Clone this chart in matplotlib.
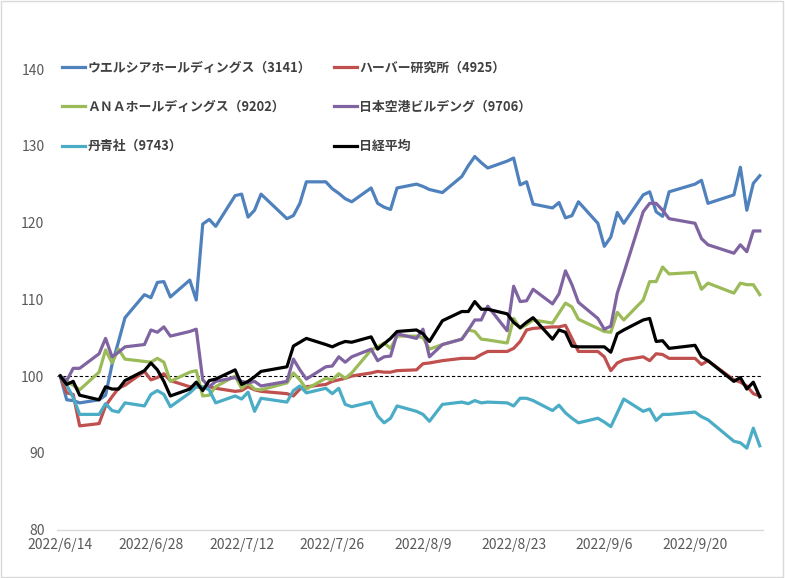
import matplotlib
matplotlib.use("Agg")
import matplotlib.pyplot as plt
from matplotlib.patches import Rectangle
import pandas as pd

plt.rcParams['font.family'] = ['Noto Sans CJK JP', 'DejaVu Sans']

# trading days 2022/6/14 - 2022/9/30
dates = [
    "6/14", "6/15", "6/16", "6/17", "6/20", "6/21", "6/22", "6/23", "6/24",
    "6/27", "6/28", "6/29", "6/30", "7/1", "7/4", "7/5", "7/6", "7/7", "7/8",
    "7/11", "7/12", "7/13", "7/14", "7/15", "7/19", "7/20", "7/21", "7/22",
    "7/25", "7/26", "7/27", "7/28", "7/29", "8/1", "8/2", "8/3", "8/4", "8/5",
    "8/8", "8/9", "8/10", "8/12", "8/15", "8/16", "8/17", "8/18", "8/19",
    "8/22", "8/23", "8/24", "8/25", "8/26", "8/29", "8/30", "8/31", "9/1", "9/2",
    "9/5", "9/6", "9/7", "9/8", "9/9", "9/12", "9/13", "9/14", "9/15", "9/16",
    "9/20", "9/21", "9/22", "9/26", "9/27", "9/28", "9/29", "9/30",
]

welcia = [
    100, 96.9, 96.8, 96.5, 96.9, 97.5, 101.5, 104.5, 107.6,
    110.6, 110.2, 112.2, 112.3, 110.3, 112.5, 109.9, 119.8, 120.4, 119.5,
    123.5, 123.7, 120.7, 121.6, 123.7, 120.5, 120.9, 122.5, 125.3,
    125.3, 124.4, 123.8, 123.1, 122.7, 124.5, 122.5, 122.0, 121.7, 124.5,
    125.0, 124.7, 124.3, 123.9, 126.0, 127.4, 128.6, 127.8, 127.1,
    128.0, 128.4, 124.9, 125.3, 122.4, 121.9, 122.6, 120.6, 120.9, 122.7,
    119.9, 116.9, 118.1, 121.3, 119.9, 123.6, 124.0, 121.4, 120.8, 124.0,
    125.0, 125.5, 122.5, 123.6, 127.2, 121.6, 125.1, 126.1,
]
harbor = [
    100, 97.8, 97.6, 93.5, 93.8, 96.1, 97.3, 98.4, 98.8,
    100.6, 99.5, 99.8, 100.3, 99.4, 98.6, 98.6, 98.5, 98.6, 98.4,
    98.0, 98.1, 98.6, 98.2, 98.0, 97.7, 97.4, 98.3, 98.6,
    98.9, 99.3, 99.5, 99.7, 100.0, 100.4, 100.6, 100.5, 100.5, 100.7,
    100.8, 101.6, 101.7, 102.0, 102.3, 102.3, 102.3, 102.8, 103.2,
    103.2, 103.6, 104.5, 106.0, 106.2, 106.4, 106.4, 106.6, 104.9, 103.2,
    103.2, 102.5, 100.7, 101.7, 102.1, 102.5, 102.0, 102.9, 102.8, 102.3,
    102.3, 101.5, 102.0, 99.5, 99.2, 98.7, 97.7, 97.4,
]
ana = [
    100, 99.3, 98.8, 98.2, 100.5, 103.4, 101.7, 103.5, 102.2,
    101.9, 101.8, 102.3, 101.8, 99.3, 100.5, 100.7, 97.4, 97.5, 98.6,
    100.0, 98.4, 99.1, 98.3, 98.2, 99.1, 100.4, 99.5, 98.3,
    99.7, 99.5, 100.3, 99.7, 100.4, 103.4, 103.8, 104.3, 103.6, 105.2,
    105.2, 105.0, 103.5, 104.1, 104.8, 106.0, 105.8, 104.8, 104.7,
    104.3, 107.5, 106.2, 106.7, 107.3, 106.9, 108.2, 109.5, 109.0, 107.4,
    106.2, 105.8, 105.7, 108.3, 107.3, 109.9, 112.3, 112.3, 114.2, 113.3,
    113.5, 111.3, 112.1, 110.8, 112.1, 111.9, 111.9, 110.6,
]
jat = [
    100, 99.4, 101.0, 101.0, 102.9, 104.9, 102.5, 103.1, 103.8,
    104.1, 106.0, 105.7, 106.4, 105.2, 105.8, 106.1, 99.5, 98.6, 99.3,
    99.8, 99.3, 99.1, 99.3, 98.7, 99.3, 102.2, 100.8, 99.6,
    101.2, 101.3, 102.5, 101.8, 102.5, 103.5, 102.0, 102.5, 102.6, 105.5,
    104.9, 106.1, 102.5, 104.1, 104.8, 106.0, 107.3, 107.3, 109.1,
    105.9, 111.7, 109.7, 109.8, 111.3, 109.4, 110.7, 113.7, 111.9, 109.6,
    107.5, 106.1, 106.5, 110.8, 113.4, 121.4, 122.5, 122.5, 121.6, 120.5,
    119.9, 117.9, 117.1, 116.0, 117.1, 116.2, 118.9, 118.9,
]
tanseisha = [
    100, 98.8, 97.2, 95.0, 95.0, 96.4, 95.5, 95.3, 96.5,
    96.1, 97.6, 98.1, 97.6, 96.0, 97.8, 98.6, 98.6, 98.2, 96.5,
    97.4, 97.0, 97.9, 95.4, 97.1, 96.6, 98.1, 98.7, 97.8,
    98.4, 97.7, 98.4, 96.3, 96.0, 96.6, 94.8, 93.9, 94.5, 96.1,
    95.4, 95.0, 94.1, 96.3, 96.6, 96.4, 96.8, 96.5, 96.6,
    96.5, 96.1, 97.1, 97.1, 96.8, 95.5, 96.2, 95.2, 94.5, 93.9,
    94.5, 94.0, 93.4, 95.2, 97.0, 95.4, 95.7, 94.2, 95.0, 95.0,
    95.3, 94.7, 94.3, 91.5, 91.3, 90.6, 93.2, 90.9,
]
nikkei = [
    100, 98.9, 99.3, 97.5, 96.9, 98.6, 98.3, 98.3, 99.4,
    100.7, 101.7, 100.8, 99.3, 97.4, 98.3, 99.2, 98.1, 99.4, 99.6,
    100.8, 98.9, 99.3, 99.9, 100.6, 101.2, 103.9, 104.4, 104.9,
    104.1, 103.8, 104.2, 104.5, 104.4, 105.1, 103.5, 104.2, 104.9, 105.8,
    106.0, 105.5, 104.5, 107.2, 108.4, 108.4, 109.7, 108.7, 108.7,
    108.1, 107.0, 106.3, 107.0, 107.6, 104.8, 106.0, 105.7, 103.9, 103.8,
    103.8, 103.8, 103.1, 105.5, 106.0, 107.3, 107.5, 104.5, 104.6, 103.6,
    104.0, 102.5, 102.0, 99.3, 99.8, 98.3, 99.2, 97.3,
]

names = [
    "ウエルシアホールディングス（3141）",
    "ハーバー研究所（4925）",
    "ＡＮＡホールディングス（9202）",
    "日本空港ビルデング（9706）",
    "丹青社（9743）",
    "日経平均",
]
colors = ["#4F81BD", "#C0504D", "#9BBB59", "#8064A2", "#4BACC6", "#000000"]
baseline = 100

x = pd.to_datetime(["2022/" + d for d in dates])
series = [welcia, harbor, ana, jat, tanseisha, nikkei]

fig = plt.figure(figsize=(7.85, 5.78), dpi=100)
ax = fig.add_axes([0.0726, 0.0839, 0.8994, 0.7967])

lines = []
for vals, name, c in zip(series, names, colors):
    ln, = ax.plot(x, vals, color=c, lw=2.3, label=name, solid_joinstyle='round')
    lines.append(ln)

ax.axhline(baseline, color='black', lw=0.8, ls=(0, (3, 2)), zorder=1)

ax.set_ylim(80, 140)
ax.set_yticks(range(80, 141, 10))
ax.set_xlim(x[0] - pd.Timedelta(hours=12), x[-1] + pd.Timedelta(hours=12))
ticks = pd.date_range(x[0], x[-1], freq='14D')
ax.set_xticks(ticks)
ax.set_xticklabels([f"{d.year}/{d.month}/{d.day}" for d in ticks])

for s in ['top', 'right', 'left']:
    ax.spines[s].set_visible(False)
ax.spines['bottom'].set_color('#D9D9D9')
ax.spines['bottom'].set_linewidth(1)
ax.tick_params(axis='both', length=0, labelsize=10, colors='#595959')
ax.tick_params(axis='y', pad=9)
ax.tick_params(axis='x', pad=6)

# legend, row-major order like the original
order = [0, 2, 4, 1, 3, 5]
leg = ax.legend([lines[i] for i in order], [names[i] for i in order],
                ncol=2, loc='upper left', bbox_to_anchor=(0.079, 0.895),
                bbox_transform=fig.transFigure, frameon=False,
                prop={'weight': 'bold', 'size': 9.3},
                handlelength=1.8, handletextpad=0.15,
                labelspacing=1.95, columnspacing=1.8,
                borderpad=0, borderaxespad=0)
for t in leg.get_texts():
    t.set_color('#404040')

fig.patches.append(Rectangle((0.001, 0.001), 0.997, 0.997, transform=fig.transFigure,
                             fill=False, edgecolor='#D9D9D9', lw=1))

fig.savefig("out.png", dpi=100)
